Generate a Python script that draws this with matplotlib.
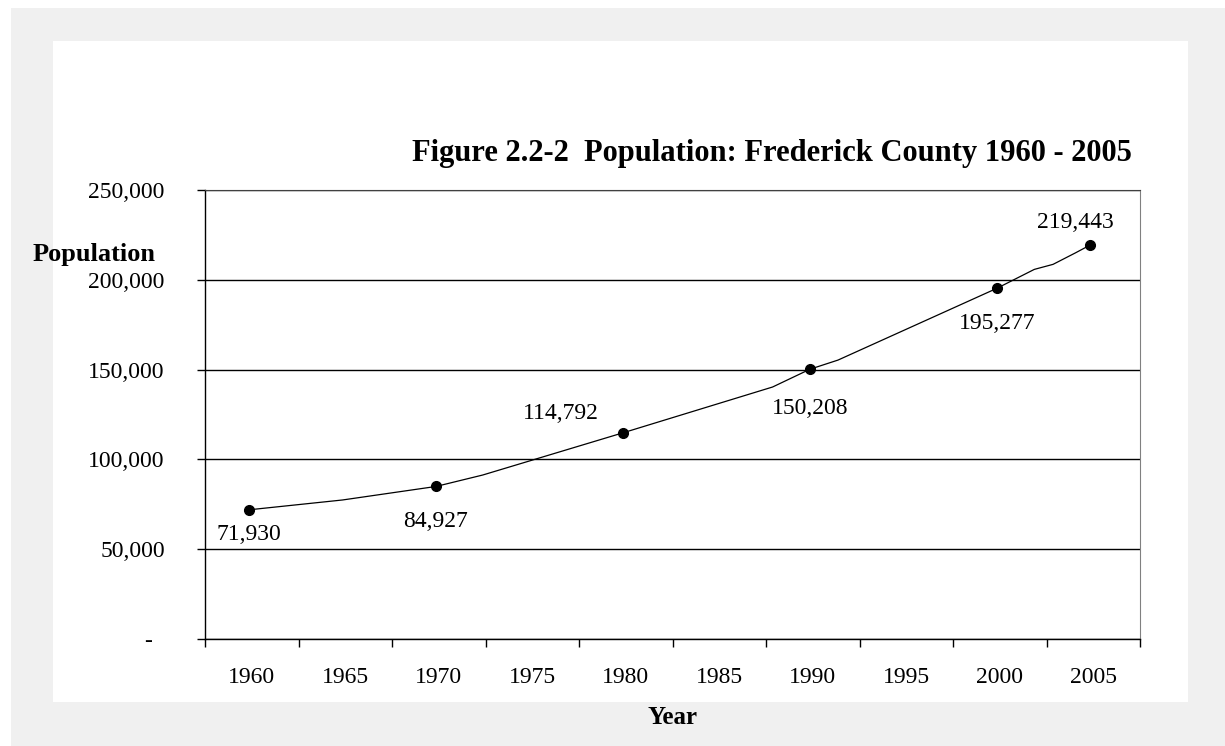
import matplotlib
matplotlib.use("Agg")
import matplotlib.pyplot as plt
from matplotlib.patches import Rectangle
from matplotlib.ticker import FixedLocator, FuncFormatter

plt.rcParams["font.family"] = ["Liberation Serif", "DejaVu Serif"]

# x categories shown on the axis
categories = ["1960", "1965", "1970", "1975", "1980",
              "1985", "1990", "1995", "2000", "2005"]

# population line (with in-between years)
line_years = [1960, 1965, 1970, 1972.5, 1980, 1988, 1990, 1991.5,
              2000, 2002, 2003, 2004.2, 2005]
line_pop = [71930, 77400, 84927, 91300, 114792, 140300, 150208, 155300,
            195277, 205800, 208600, 215000, 219443]

# census points with labels
mark_years = [1960, 1970, 1980, 1990, 2000, 2005]
mark_pop = [71930, 84927, 114792, 150208, 195277, 219443]
# label offsets in points (dx, dy)
label_offsets = [(0, -18), (0, -25), (-45, 14), (0, -28), (0, -25), (-11, 16)]

W, H = 1225, 746
fig = plt.figure(figsize=(W / 100, H / 100), dpi=100)
fig.patch.set_facecolor("white")

# gray frame and white panel
fig.patches.append(Rectangle((11 / W, 0), 1 - 11 / W, 1 - 8 / H,
                             transform=fig.transFigure, facecolor="#f0f0f0",
                             edgecolor="none", zorder=-10))
fig.patches.append(Rectangle((53 / W, 1 - 702 / H), (1188 - 53) / W, (702 - 41) / H,
                             transform=fig.transFigure, facecolor="white",
                             edgecolor="none", zorder=-9))

ax = fig.add_axes([205 / W, 1 - 639 / H, (1140 - 205) / W, (639 - 190) / H])
ax.set_facecolor("white")


def to_cat(year):
    return (year - 1960) / 5.0


ax.plot([to_cat(y) for y in line_years], line_pop, color="black", lw=0.9, zorder=3)
ax.plot([to_cat(y) for y in mark_years], mark_pop, "o", color="black",
        markersize=7, zorder=4)

for yr, val, (dx, dy) in zip(mark_years, mark_pop, label_offsets):
    ax.annotate(f"{val:,}", (to_cat(yr), val), xytext=(dx, dy),
                textcoords="offset points", ha="center", va="center", fontsize=17)

ax.set_xlim(-0.47, len(categories) - 0.47)
ax.set_ylim(0, 250000)

# y axis
ax.set_yticks(range(0, 250001, 50000))
ax.yaxis.set_major_formatter(FuncFormatter(lambda v, p: "-  " if v == 0 else f"{int(v):,}"))
ax.tick_params(axis="y", direction="out", length=6, width=1, pad=23, labelsize=17)
ax.yaxis.grid(True, color="black", lw=1)
ax.set_axisbelow(True)

# x axis: ticks at category borders, labels at centers
ax.xaxis.set_major_locator(FixedLocator([i - 0.47 for i in range(len(categories) + 1)]))
ax.xaxis.set_major_formatter(FuncFormatter(lambda v, p: ""))
ax.xaxis.set_minor_locator(FixedLocator([i + 0.03 for i in range(len(categories))]))
ax.set_xticklabels(categories, minor=True)
ax.tick_params(axis="x", which="major", direction="out", length=6, width=1)
ax.tick_params(axis="x", which="minor", length=0, pad=20, labelsize=17)

for side in ["left", "bottom"]:
    ax.spines[side].set_color("black")
    ax.spines[side].set_linewidth(1)
ax.spines["top"].set_color("#404040")
ax.spines["right"].set_color("#808080")

fig.text(772 / W, 1 - 153 / H, "Figure 2.2-2  Population: Frederick County 1960 - 2005",
         ha="center", va="center", fontsize=22, fontweight="bold")
fig.text(33 / W, 1 - 255 / H, "Population", ha="left", va="center",
         fontsize=19, fontweight="bold")
fig.text(673 / W, 1 - 718 / H, "Year", ha="center", va="center",
         fontsize=18, fontweight="bold")

fig.savefig("out.png", dpi=100, facecolor=fig.get_facecolor())
